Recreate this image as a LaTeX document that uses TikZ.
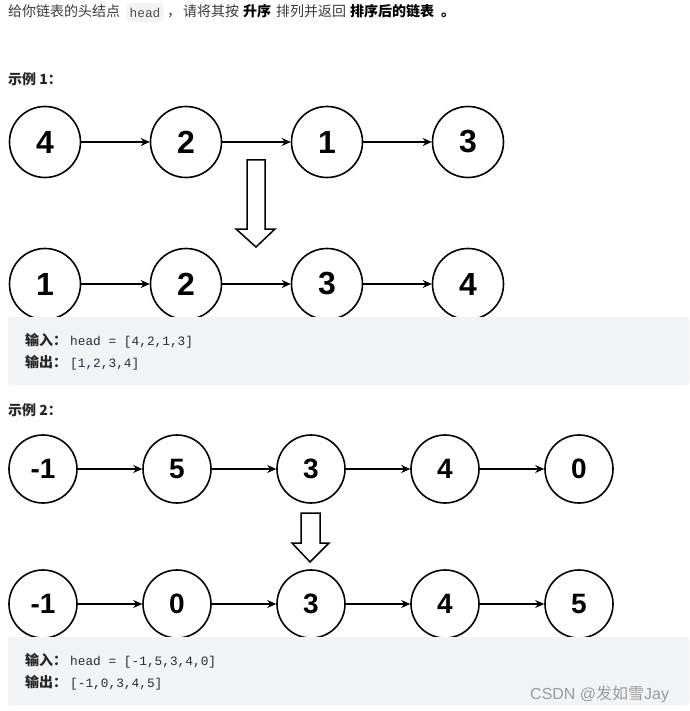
\documentclass[tikz,border=0pt]{standalone}
\usepackage{fontspec}
\setmainfont{Liberation Sans}
\setmonofont{Liberation Mono}
\newfontfamily\cjk{Noto Sans CJK SC}
\usetikzlibrary{arrows.meta}
\definecolor{txt}{HTML}{3A3A3A}
\definecolor{boxgray}{HTML}{F2F3F5}
\definecolor{codecol}{HTML}{2B2B3A}
\definecolor{wm}{HTML}{9A9A9A}
\tikzset{
  lnode/.style={circle, draw, line width=1.6pt, minimum size=71pt, inner sep=0pt, font=\fontsize{32}{32}\selectfont\bfseries},
  snode/.style={circle, draw, line width=1.6pt, minimum size=68pt, inner sep=0pt, font=\fontsize{28}{28}\selectfont\bfseries},
  link/.style={-{Stealth[length=9pt,width=8pt]}, line width=1.3pt},
  bigarrow/.style={draw, line width=1.5pt, fill=white, line join=miter},
  para/.style={anchor=base west, inner sep=0pt, text=txt, font=\cjk\fontsize{14}{15}\selectfont},
  parab/.style={para, text=black, font=\cjk\fontsize{14}{15}\selectfont\bfseries},
  codebox/.style={fill=boxgray, rounded corners=3pt, draw=none},
  lbl/.style={anchor=base west, inner sep=0pt, text=black!85, font=\cjk\fontsize{14}{15}\selectfont\bfseries},
  code/.style={anchor=base west, inner sep=0pt, text=codecol, font=\ttfamily\fontsize{12.8}{14}\selectfont},
}
\begin{document}
\begin{tikzpicture}[x=1pt, y=-1pt]
\useasboundingbox[fill=white] (0,0) rectangle (689,711);

% top sentence
\node[para] (t1) at (8,17) {给你链表的头结点};
\node[codebox, minimum width=37pt, minimum height=19pt, inner sep=0pt] (hb) at (145,12.5) {};
\node[inner sep=0pt, text=black!70, font=\ttfamily\fontsize{12.8}{14}\selectfont] (ht) at (hb.center) {head};
\node[para] (t2) at (167,17) {，};
\node[para] (t3) at (183,17) {请将其按};
\node[parab] (t4) at (243,17) {升序};
\node[para] (t5) at (276,17) {排列并返回};
\node[parab] (t6) at (350,17) {排序后的链表};
\node[parab] (t7) at (441,17) {。};

% example 1
\node[lbl] (ex1) at (8,85) {示例 1：};
\node[lnode] (a1) at (45,142) {4};
\node[lnode] (a2) at (186,142) {2};
\node[lnode] (a3) at (327,142) {1};
\node[lnode] (a4) at (468,142) {3};
\draw[link] (a1) -- (a2);
\draw[link] (a2) -- (a3);
\draw[link] (a3) -- (a4);

\draw[bigarrow] (247,160) -- (265,160) -- (265,229) -- (275,229) -- (256,247) -- (236,229) -- (247,229) -- cycle;

\node[lnode] (b1) at (45,284) {1};
\node[lnode] (b2) at (186,284) {2};
\node[lnode] (b3) at (327,284) {3};
\node[lnode] (b4) at (468,284) {4};
\draw[link] (b1) -- (b2);
\draw[link] (b2) -- (b3);
\draw[link] (b3) -- (b4);

\fill[boxgray, rounded corners=3pt] (8,317) rectangle (689,385);
\node[lbl] (in1) at (25,345) {输入：};
\node[code] (inc1) at (70,345) {head = [4,2,1,3]};
\node[lbl] (out1) at (25,367) {输出：};
\node[code] (outc1) at (70,367) {[1,2,3,4]};

% example 2
\node[lbl] (ex2) at (8,415) {示例 2：};
\node[snode] (c1) at (43,469) {-1};
\node[snode] (c2) at (177,469) {5};
\node[snode] (c3) at (311,469) {3};
\node[snode] (c4) at (445,469) {4};
\node[snode] (c5) at (579,469) {0};
\draw[link] (c1) -- (c2);
\draw[link] (c2) -- (c3);
\draw[link] (c3) -- (c4);
\draw[link] (c4) -- (c5);

\draw[bigarrow] (301,513) -- (320,513) -- (320,543) -- (329,543) -- (310,562) -- (292,543) -- (301,543) -- cycle;

\node[snode] (d1) at (43,604) {-1};
\node[snode] (d2) at (177,604) {0};
\node[snode] (d3) at (311,604) {3};
\node[snode] (d4) at (445,604) {4};
\node[snode] (d5) at (579,604) {5};
\draw[link] (d1) -- (d2);
\draw[link] (d2) -- (d3);
\draw[link] (d3) -- (d4);
\draw[link] (d4) -- (d5);

\fill[boxgray, rounded corners=3pt] (8,637) rectangle (689,705);
\node[lbl] (in2) at (25,665) {输入：};
\node[code] (inc2) at (70,665) {head = [-1,5,3,4,0]};
\node[lbl] (out2) at (25,687) {输出：};
\node[code] (outc2) at (70,687) {[-1,0,3,4,5]};

\node[anchor=base west, inner sep=0pt, text=wm, font=\fontsize{16}{17}\selectfont] (wmk) at (530,699) {CSDN @{\cjk 发如雪}Jay};
\end{tikzpicture}
\end{document}
